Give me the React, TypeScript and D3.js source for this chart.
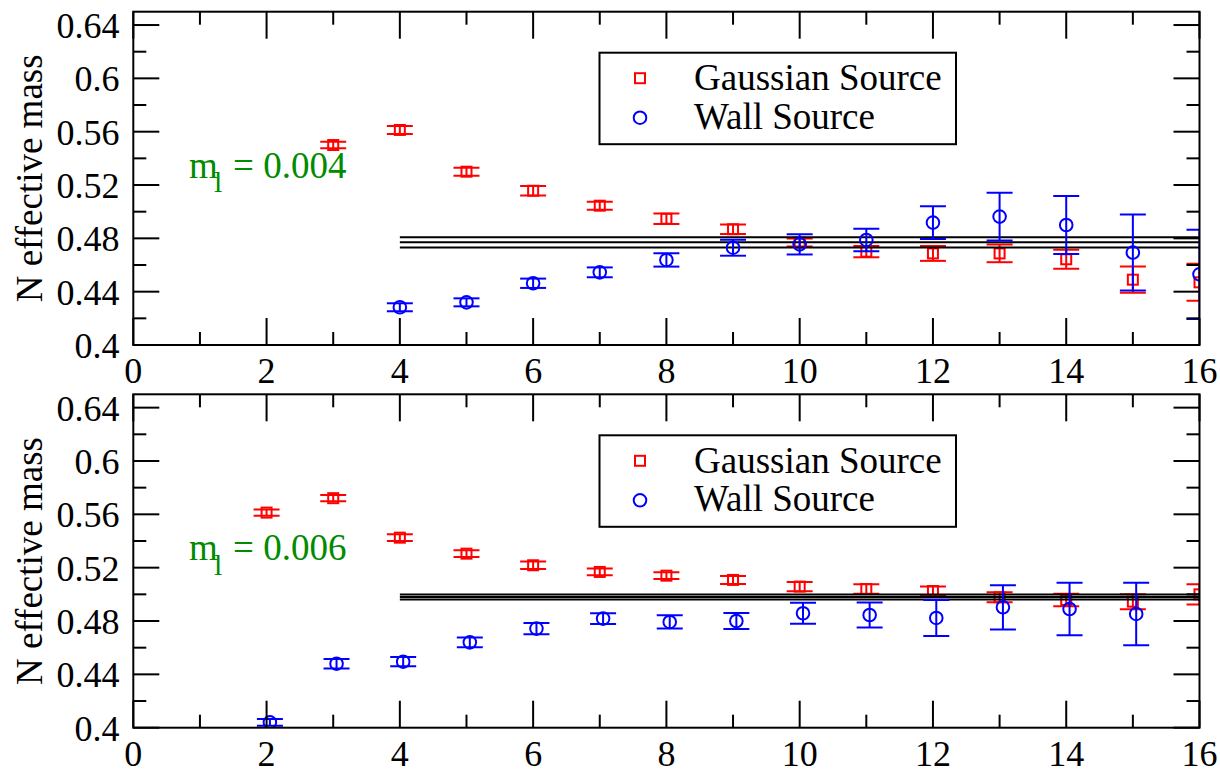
import React from "react";
import * as d3 from "d3";

const W = 1220;
const H = 771;

// x ticks and y ticks shared by both panels
const xMajor = [0, 2, 4, 6, 8, 10, 12, 14, 16];
const xMinor = [1, 3, 5, 7, 9, 11, 13, 15];
const yMajor = [0.4, 0.44, 0.48, 0.52, 0.56, 0.6, 0.64];
const yMinor = [0.42, 0.46, 0.5, 0.54, 0.58, 0.62];

// top panel, m_l = 0.004
const gaussTopX = [3, 4, 5, 6, 7, 8, 9, 10, 11, 12, 13, 14, 15, 16];
const gaussTopY = [0.55, 0.5613, 0.53, 0.5157, 0.5045, 0.4947, 0.4868, 0.4768, 0.47, 0.4687, 0.4687, 0.4643, 0.449, 0.447];
const gaussTopE = [0.0025, 0.003, 0.003, 0.0035, 0.003, 0.004, 0.0035, 0.003, 0.0042, 0.0056, 0.0066, 0.0071, 0.0098, 0.0139];
const wallTopX = [4, 5, 6, 7, 8, 9, 10, 11, 12, 13, 14, 15, 16];
const wallTopY = [0.4283, 0.432, 0.4463, 0.4545, 0.4638, 0.473, 0.4755, 0.4788, 0.4918, 0.4963, 0.49, 0.4693, 0.453];
const wallTopE = [0.003, 0.003, 0.0035, 0.0037, 0.005, 0.006, 0.0076, 0.0084, 0.0123, 0.0179, 0.0218, 0.0285, 0.0335];
const fitTop = [0.477, 0.0038]; // value, error

// bottom panel, m_l = 0.006
const gaussBotX = [2, 3, 4, 5, 6, 7, 8, 9, 10, 11, 12, 13, 14, 15, 16];
const gaussBotY = [0.5613, 0.5721, 0.5425, 0.5305, 0.5218, 0.5168, 0.514, 0.5108, 0.5058, 0.504, 0.5025, 0.4978, 0.4958, 0.4945, 0.5];
const gaussBotE = [0.0023, 0.0023, 0.0025, 0.0025, 0.0028, 0.0025, 0.0025, 0.003, 0.0035, 0.0035, 0.0034, 0.0038, 0.0047, 0.0056, 0.0076];
const wallBotX = [2.05, 3.05, 4.05, 5.05, 6.05, 7.05, 8.05, 9.05, 10.05, 11.05, 12.05, 13.05, 14.05, 15.05];
const wallBotY = [0.404, 0.448, 0.4495, 0.464, 0.4743, 0.4818, 0.4793, 0.48, 0.4858, 0.4845, 0.4823, 0.4903, 0.489, 0.4853];
const wallBotE = [0.0025, 0.0036, 0.0035, 0.0036, 0.0042, 0.004, 0.005, 0.006, 0.0079, 0.0094, 0.0135, 0.0166, 0.0196, 0.0234];
const fitBot = [0.498, 0.0018];

const FONT = "Liberation Serif, Times New Roman, serif";
const RED = "#ff0000";
const BLUE = "#0000ff";
const GREEN = "#008b00";

const x = d3.scaleLinear().domain([0, 16]).range([133.3, 1199.5]);

type PanelProps = {
  id: string;
  top: number;
  bottom: number;
  gx: number[]; gy: number[]; ge: number[];
  wx: number[]; wy: number[]; we: number[];
  fit: number[];
  mass: string;
};

const txt = (size: number, fill = "#000") => ({ fontFamily: FONT, fontSize: size + "px", fill });

const Panel = ({ id, top, bottom, gx, gy, ge, wx, wy, we, fit, mass }: PanelProps) => {
  const y = d3.scaleLinear().domain([0.4, 0.65]).range([bottom, top]);
  const x0 = x.range()[0];
  const x1 = x.range()[1];
  const cap = 13;

  const errBar = (xv: number, v: number, e: number, color: string, key: string) => {
    const cx = x(xv);
    return (
      <g key={key} stroke={color} strokeWidth={2} fill="none">
        <line x1={cx} x2={cx} y1={y(v - e)} y2={y(v + e)} />
        <line x1={cx - cap} x2={cx + cap} y1={y(v - e)} y2={y(v - e)} />
        <line x1={cx - cap} x2={cx + cap} y1={y(v + e)} y2={y(v + e)} />
      </g>
    );
  };

  return (
    <g>
      <defs>
        <clipPath id={id}>
          <rect x={x0} y={top} width={x1 - x0} height={bottom - top} />
        </clipPath>
      </defs>

      <g clipPath={`url(#${id})`}>
        {/* gaussian source */}
        {gx.map((xv, i) => errBar(xv, gy[i], ge[i], RED, "ge" + i))}
        {gx.map((xv, i) => (
          <rect key={"gm" + i} x={x(xv) - 5} y={y(gy[i]) - 5} width={10} height={10}
            fill="none" stroke={RED} strokeWidth={2} />
        ))}
        {/* plateau fit */}
        {[fit[0] + fit[1], fit[0], fit[0] - fit[1]].map((v, i) => (
          <line key={"f" + i} x1={x(4)} x2={x(16)} y1={y(v)} y2={y(v)} stroke="#000" strokeWidth={2} />
        ))}
        {/* wall source */}
        {wx.map((xv, i) => errBar(xv, wy[i], we[i], BLUE, "we" + i))}
        {wx.map((xv, i) => (
          <circle key={"wm" + i} cx={x(xv)} cy={y(wy[i])} r={6.3}
            fill="none" stroke={BLUE} strokeWidth={2} />
        ))}
      </g>

      {/* frame */}
      <rect x={x0} y={top} width={x1 - x0} height={bottom - top} fill="none" stroke="#000" strokeWidth={2} />

      {/* ticks */}
      <g stroke="#000" strokeWidth={2}>
        {xMajor.map((t) => (
          <g key={"xM" + t}>
            <line x1={x(t)} x2={x(t)} y1={bottom} y2={bottom - 27} />
            <line x1={x(t)} x2={x(t)} y1={top} y2={top + 27} />
          </g>
        ))}
        {xMinor.map((t) => (
          <g key={"xm" + t}>
            <line x1={x(t)} x2={x(t)} y1={bottom} y2={bottom - 13} />
            <line x1={x(t)} x2={x(t)} y1={top} y2={top + 13} />
          </g>
        ))}
        {yMajor.map((t) => (
          <g key={"yM" + t}>
            <line x1={x0} x2={x0 + 26} y1={y(t)} y2={y(t)} />
            <line x1={x1} x2={x1 - 26} y1={y(t)} y2={y(t)} />
          </g>
        ))}
        {yMinor.map((t) => (
          <g key={"ym" + t}>
            <line x1={x0} x2={x0 + 13} y1={y(t)} y2={y(t)} />
            <line x1={x1} x2={x1 - 13} y1={y(t)} y2={y(t)} />
          </g>
        ))}
      </g>

      {/* tick labels */}
      {xMajor.map((t) => (
        <text key={"xl" + t} x={x(t)} y={bottom + 38} textAnchor="middle" style={txt(36)}>{t}</text>
      ))}
      {yMajor.map((t) => (
        <text key={"yl" + t} x={119.5} y={y(t) + 13} textAnchor="end" style={txt(36)}>{String(t)}</text>
      ))}

      <text
        transform={`translate(42,${(top + bottom) / 2}) rotate(-90)`}
        textAnchor="middle" style={txt(37)}
      >
        N effective mass
      </text>

      {/* mass label */}
      <text x={189} y={top + 165.8} style={txt(37, GREEN)}>m</text>
      <text x={214} y={top + 180.5} style={txt(30, GREEN)}>l</text>
      <text x={233} y={top + 165.8} style={txt(37, GREEN)}>= {mass}</text>

      {/* legend */}
      <g>
        <rect x={599.5} y={top + 41} width={356.5} height={91.5} fill="#fff" stroke="#000" strokeWidth={2} />
        <rect x={635} y={top + 61.5} width={10} height={10} fill="none" stroke={RED} strokeWidth={2} />
        <circle cx={640} cy={top + 106} r={6.3} fill="none" stroke={BLUE} strokeWidth={2} />
        <text x={694} y={top + 78.5} style={txt(37)}>Gaussian Source</text>
        <text x={694} y={top + 117} style={txt(37)}>Wall Source</text>
      </g>
    </g>
  );
};

export default function App() {
  return (
    <div style={{ position: "absolute", left: 0, top: 0 }}>
      <svg width={W} height={H} style={{ display: "block", background: "#fff" }}>
        <Panel id="clipTop" top={11.7} bottom={345}
          gx={gaussTopX} gy={gaussTopY} ge={gaussTopE}
          wx={wallTopX} wy={wallTopY} we={wallTopE}
          fit={fitTop} mass="0.004" />
        <Panel id="clipBot" top={394.3} bottom={727.7}
          gx={gaussBotX} gy={gaussBotY} ge={gaussBotE}
          wx={wallBotX} wy={wallBotY} we={wallBotE}
          fit={fitBot} mass="0.006" />
      </svg>
    </div>
  );
}
